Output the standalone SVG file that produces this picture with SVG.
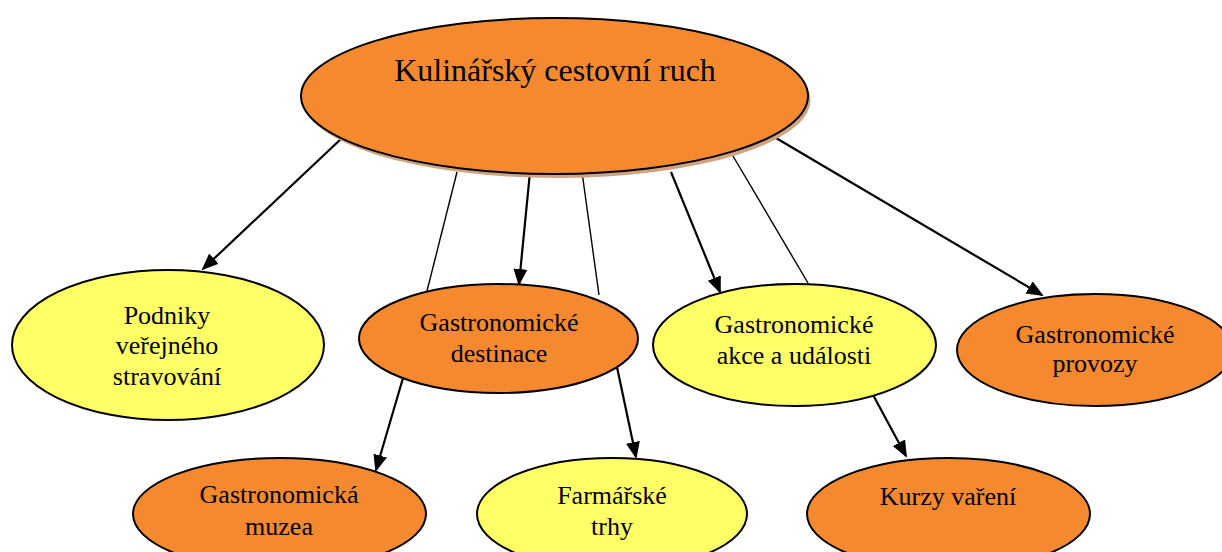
<svg xmlns="http://www.w3.org/2000/svg" width="1222" height="552" viewBox="0 0 1222 552">
<style>
.orange{fill:#F4892F;stroke:#000;stroke-width:2}
.yellow{fill:#FFFF66;stroke:#000;stroke-width:2}
.shadow{fill:#CFA483;stroke:none}
text{font-family:"Liberation Serif","Times New Roman",serif;fill:#000;text-anchor:middle;font-size:26px}
.title{font-size:32px}
.arrow{stroke:#000;stroke-width:2.2;fill:none;marker-end:url(#ah)}
.thin{stroke:#000;stroke-width:1.4;fill:none}
</style>
<defs>
<marker id="ah" markerUnits="userSpaceOnUse" markerWidth="18" markerHeight="16" refX="15" refY="7" orient="auto" viewBox="0 0 18 16">
<path d="M0,0 L17,7 L0,14 z" fill="#000"/>
</marker>
</defs>
<rect width="1222" height="552" fill="#fff"/>
<g id="connectors">
<line class="thin" x1="457" y1="172" x2="426" y2="295"/>
<line class="thin" x1="582" y1="172" x2="599" y2="295"/>
<line class="thin" x1="733" y1="156" x2="808" y2="283"/>
<line class="arrow" x1="342" y1="138" x2="203" y2="269"/>
<line class="arrow" x1="530" y1="172" x2="519" y2="284"/>
<line class="arrow" x1="671" y1="172" x2="720" y2="292"/>
<line class="arrow" x1="776" y1="138" x2="1042" y2="295"/>
<line class="arrow" x1="403" y1="378" x2="376" y2="470"/>
<line class="arrow" x1="617" y1="367" x2="636" y2="457"/>
<line class="arrow" x1="872" y1="393" x2="906" y2="456"/>
</g>
<g id="root">
<ellipse class="shadow" cx="557" cy="100" rx="253.5" ry="78"/>
<ellipse class="orange" cx="554.5" cy="96" rx="253.5" ry="78"/>
<text class="title" x="555" y="81">Kulinářský cestovní ruch</text>
</g>
<g id="podniky">
<ellipse class="yellow" cx="168" cy="345" rx="156" ry="75"/>
<text x="167" y="324">Podniky</text>
<text x="167" y="354">veřejného</text>
<text x="167" y="385">stravování</text>
</g>
<g id="destinace">
<ellipse class="orange" cx="498.5" cy="338.5" rx="139.5" ry="54.5"/>
<text x="499" y="331">Gastronomické</text>
<text x="499" y="362">destinace</text>
</g>
<g id="akce">
<ellipse class="yellow" cx="794.5" cy="345" rx="141.5" ry="61"/>
<text x="794" y="333">Gastronomické</text>
<text x="794" y="364">akce a události</text>
</g>
<g id="provozy">
<ellipse class="orange" cx="1095" cy="350" rx="138" ry="56"/>
<text x="1095" y="343">Gastronomické</text>
<text x="1095" y="372">provozy</text>
</g>
<g id="muzea">
<ellipse class="orange" cx="279.5" cy="514" rx="146.5" ry="56"/>
<text x="279" y="503">Gastronomická</text>
<text x="279" y="535">muzea</text>
</g>
<g id="trhy">
<ellipse class="yellow" cx="612" cy="514" rx="135" ry="56"/>
<text x="612" y="504">Farmářské</text>
<text x="612" y="535">trhy</text>
</g>
<g id="kurzy">
<ellipse class="orange" cx="948.5" cy="514" rx="141.5" ry="56"/>
<text x="948" y="505">Kurzy vaření</text>
</g>
</svg>
